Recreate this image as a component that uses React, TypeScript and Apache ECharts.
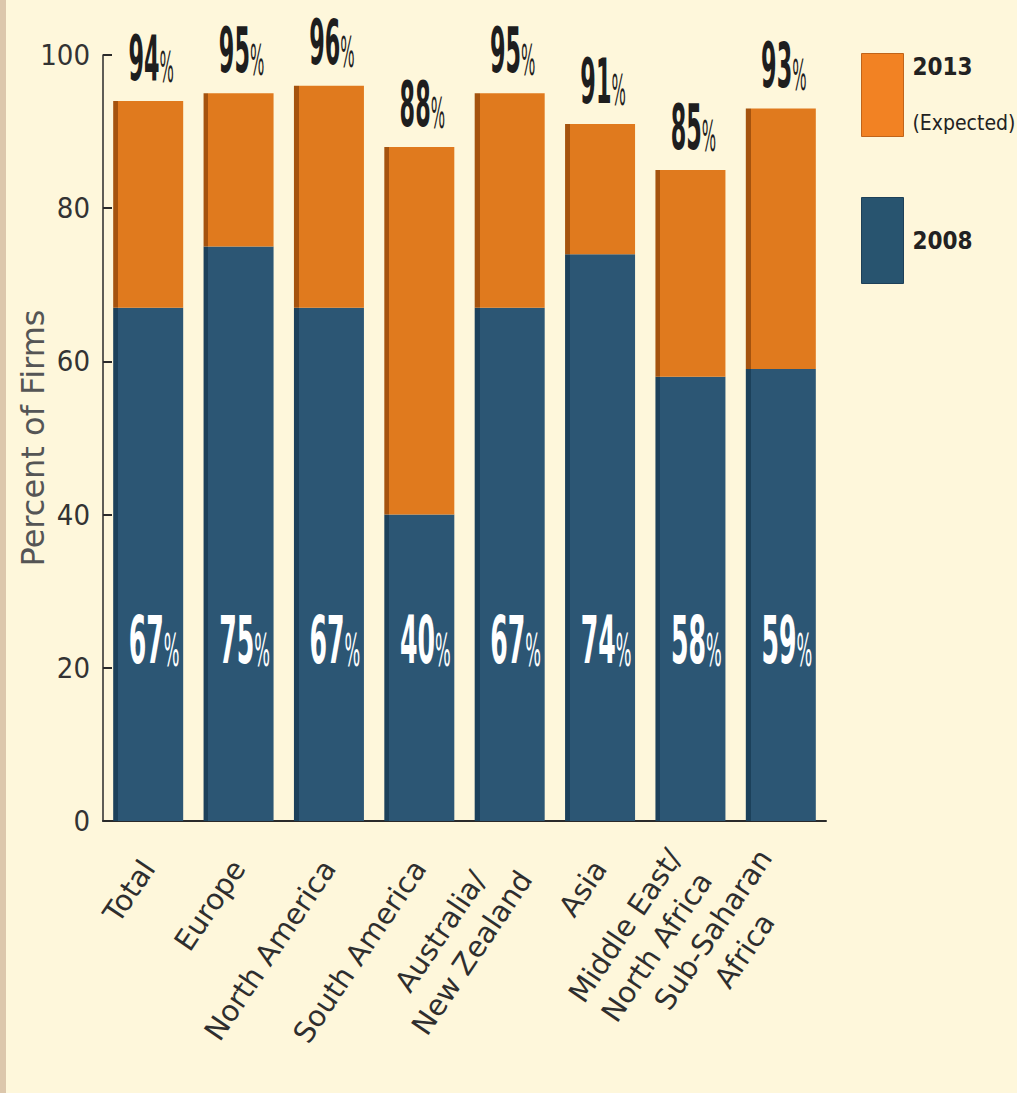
import React, { useEffect, useRef } from 'react';
import * as echarts from 'echarts';

const categories = [
  'Total',
  'Europe',
  'North America',
  'South America',
  'Australia/\nNew Zealand',
  'Asia',
  'Middle East/\nNorth Africa',
  'Sub-Saharan\nAfrica',
];
const share2008 = [67, 75, 67, 40, 67, 74, 58, 59];
const share2013 = [94, 95, 96, 88, 95, 91, 85, 93];
const yTicks = [0, 20, 40, 60, 80, 100];
const name2013 = '2013 (Expected)';
const name2008 = '2008';

const NARROW = "'Liberation Sans Narrow','DejaVu Sans Condensed','Liberation Sans',sans-serif";
const XFONT = 29;

function measure(text: string): number {
  const ctx = document.createElement('canvas').getContext('2d');
  if (!ctx) return text.length * XFONT * 0.6;
  ctx.font = `${XFONT}px "DejaVu Sans"`;
  return Math.max(...text.split('\n').map((s) => ctx.measureText(s).width));
}

export default function App() {
  const ref = useRef<HTMLDivElement>(null);
  useEffect(() => {
    const chart = echarts.init(ref.current!, null, { renderer: 'svg' });
    const increment = share2013.map((v, i) => v - share2008[i]);
    const grad = (dark: string, base: string) =>
      new echarts.graphic.LinearGradient(0, 0, 1, 0, [
        { offset: 0, color: dark },
        { offset: 0.07, color: dark },
        { offset: 0.07, color: base },
        { offset: 1, color: base },
      ]);
    const xData = categories.map((c) => ({
      value: c,
      textStyle: { align: 'center', padding: [0, Math.round(measure(c)), 0, 0] },
    }));

    const option: any = {
      animation: false,
      backgroundColor: '#FEF7DB',
      graphic: [
        { type: 'rect', left: 0, top: 0, shape: { width: 6, height: 1093 }, style: { fill: '#DCC7AC' } },
      ],
      grid: { left: 103, right: 191, top: 55, bottom: 272, containLabel: false, outerBoundsMode: 'none' },
      legend: [
        {
          data: [{ name: name2013, itemStyle: { color: '#F28223', borderColor: '#C0641A', borderWidth: 1 } }],
          left: 861,
          top: 53,
          padding: 0,
          icon: 'rect',
          itemWidth: 42,
          itemHeight: 83,
          formatter: () => '{b|2013}\n{r|(Expected)}',
          textStyle: {
            padding: [0, 0, 0, 4],
            rich: {
              b: { fontSize: 24, fontWeight: 'bold', fontFamily: NARROW, color: '#222', lineHeight: 56 },
              r: { fontSize: 21, fontFamily: NARROW, color: '#222', lineHeight: 56 },
            },
          },
        },
        {
          data: [{ name: name2008, itemStyle: { color: '#28546F', borderColor: '#1E4058', borderWidth: 1 } }],
          left: 861,
          top: 197,
          padding: 0,
          icon: 'rect',
          itemWidth: 42,
          itemHeight: 86,
          textStyle: {
            padding: [0, 0, 0, 4],
            fontSize: 24,
            fontWeight: 'bold',
            fontFamily: NARROW,
            color: '#222',
          },
        },
      ],
      xAxis: {
        type: 'category',
        data: xData,
        axisLine: { show: true, lineStyle: { color: '#2a2a2a', width: 2 } },
        axisTick: { show: false },
        axisLabel: {
          interval: 0,
          rotate: 56,
          margin: 42,
          fontSize: XFONT,
          lineHeight: 38,
          fontFamily: 'DejaVu Sans',
          color: '#2e2e2e',
        },
      },
      yAxis: {
        type: 'value',
        min: yTicks[0],
        max: yTicks[yTicks.length - 1],
        interval: yTicks[1] - yTicks[0],
        name: 'Percent of Firms',
        nameLocation: 'middle',
        nameGap: 54,
        nameMoveOverlap: false,
        nameTextStyle: { fontSize: 32, color: '#555', fontFamily: 'DejaVu Sans' },
        axisLine: { show: true, lineStyle: { color: '#2a2a2a', width: 1.5 } },
        axisTick: { show: true, inside: true, length: 9, lineStyle: { color: '#2a2a2a', width: 2 } },
        axisLabel: { fontSize: 29, fontFamily: NARROW, color: '#333', margin: 13 },
        splitLine: { show: false },
      },
      series: [
        {
          name: name2008,
          type: 'bar',
          stack: 'total',
          barWidth: 70,
          data: share2008,
          itemStyle: { color: grad('#1C415B', '#2C5674') },
        },
        {
          name: name2013,
          type: 'bar',
          stack: 'total',
          barWidth: 70,
          data: increment,
          itemStyle: { color: grad('#A5530E', '#E07A1E') },
        },
        {
          type: 'custom',
          name: 'top labels',
          silent: true,
          z: 10,
          data: share2013.map((v, i) => [i, v]),
          renderItem: (params: any, api: any) => {
            const p = api.coord([api.value(0), api.value(1)]);
            return {
              type: 'text',
              x: p[0] + 3,
              y: p[1] - 12,
              scaleX: 0.8,
              scaleY: 2.0,
              style: {
                text: `{n|${api.value(1)}}{p|%}`,
                align: 'center',
                verticalAlign: 'bottom',
                fill: '#1e1e1e',
                rich: {
                  n: { fontSize: 31, lineHeight: 27, fontWeight: 'bold', fontFamily: NARROW, fill: '#1e1e1e', verticalAlign: 'bottom' },
                  p: { fontSize: 21, lineHeight: 27, fontFamily: NARROW, fill: '#1e1e1e', verticalAlign: 'bottom' },
                },
              },
            };
          },
        },
        {
          type: 'custom',
          name: 'inner labels',
          silent: true,
          z: 10,
          data: share2008.map((v, i) => [i, v]),
          renderItem: (params: any, api: any) => {
            const p = api.coord([api.value(0), 0]);
            return {
              type: 'text',
              x: p[0] + 6,
              y: p[1] - 148,
              scaleX: 0.8,
              scaleY: 1.9,
              style: {
                text: `{n|${api.value(1)}}{p|%}`,
                align: 'center',
                verticalAlign: 'bottom',
                fill: '#ffffff',
                rich: {
                  n: { fontSize: 35, fontWeight: 'bold', fontFamily: NARROW, fill: '#ffffff', verticalAlign: 'bottom' },
                  p: { fontSize: 23, fontFamily: NARROW, fill: '#ffffff', verticalAlign: 'bottom' },
                },
              },
            };
          },
        },
      ],
    };
    chart.setOption(option);
    return () => chart.dispose();
  }, []);
  return (
    <div style={{ position: 'absolute', left: 0, top: 0, width: 1017, height: 1093 }}>
      <div ref={ref} style={{ width: 1017, height: 1093 }} />
    </div>
  );
}
